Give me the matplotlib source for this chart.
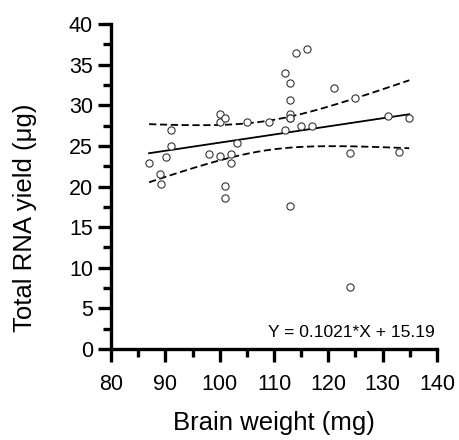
import numpy as np
import matplotlib
matplotlib.use("Agg")
from matplotlib import pyplot as plt
from matplotlib.ticker import MultipleLocator

plt.rcParams["font.family"] = ["Liberation Sans", "DejaVu Sans"]

# brain weight (mg) and total RNA yield (ug)
brain_weight = [87.0, 89.0, 89.1, 90.1, 91.0, 91.0, 98.0, 100.1, 100.1, 100.1,
                101.0, 102.1, 102.1, 101.0, 101.0, 103.1, 105.0, 109.0, 112.0, 112.0,
                113.0, 113.0, 113.0, 113.0, 114.0, 115.0, 116.0, 117.0, 121.0, 124.0,
                125.0, 131.0, 133.0, 134.9, 113.0, 124.0, 113.0]
rna_yield = [22.9, 21.5, 20.3, 23.6, 24.95, 26.95, 24.0, 23.8, 28.9, 27.9,
             28.4, 24.0, 22.85, 20.1, 18.6, 25.4, 27.9, 27.9, 26.95, 33.97,
             32.7, 30.7, 28.96, 28.4, 36.4, 27.45, 36.9, 27.45, 32.2, 24.1,
             30.9, 28.7, 24.2, 28.4, 17.55, 7.6, 28.4]
equation = "Y = 0.1021*X + 15.19"

x = np.array(brain_weight)
y = np.array(rna_yield)

# linear fit and 95% confidence band of the line
slope, intercept = np.polyfit(x, y, 1)
n = len(x)
resid = y - (slope * x + intercept)
s = np.sqrt(np.sum(resid ** 2) / (n - 2))
t_crit = 2.030  # t(0.975, df=35)
xf = np.linspace(x.min(), x.max(), 200)
yf = slope * xf + intercept
half = t_crit * s * np.sqrt(1.0 / n + (xf - x.mean()) ** 2 / np.sum((x - x.mean()) ** 2))

fig = plt.figure(figsize=(4.59, 4.40), dpi=100)
ax = fig.add_axes([0.242, 0.207, 0.710, 0.738])

ax.plot(xf, yf, color="black", lw=1.3)
ax.plot(xf, yf + half, color="black", lw=1.3, dashes=(4, 2))
ax.plot(xf, yf - half, color="black", lw=1.3, dashes=(4, 2))
ax.plot(x, y, "o", ms=5.2, mfc="white", mec="#333333", mew=0.8, zorder=3)

ax.set_xlim(80, 140)
ax.set_ylim(0, 40)
ax.xaxis.set_major_locator(MultipleLocator(10))
ax.xaxis.set_minor_locator(MultipleLocator(5))
ax.yaxis.set_major_locator(MultipleLocator(5))
ax.yaxis.set_minor_locator(MultipleLocator(2.5))

for side in ["top", "right"]:
    ax.spines[side].set_visible(False)
for side in ["left", "bottom"]:
    ax.spines[side].set_linewidth(2.4)
    ax.spines[side].set_capstyle("projecting")

ax.tick_params(which="major", length=9.5, width=2.4, color="black")
ax.tick_params(which="minor", length=5.5, width=2.4, color="black")
ax.tick_params(axis="x", which="major", labelsize=15.5, pad=8.5)
ax.tick_params(axis="y", which="major", labelsize=15.5, pad=3.5)

ax.set_xlabel("Brain weight (mg)", fontsize=18.5, va="baseline")
ax.xaxis.set_label_coords(0.5, -0.249)
ax.set_ylabel("Total RNA yield (μg)", fontsize=18.5, va="center")
ax.yaxis.set_label_coords(-0.264, 0.403)

ax.text(0.994, 0.036, equation, transform=ax.transAxes, ha="right", va="baseline", fontsize=12.5)

fig.savefig("out.png", dpi=100)
